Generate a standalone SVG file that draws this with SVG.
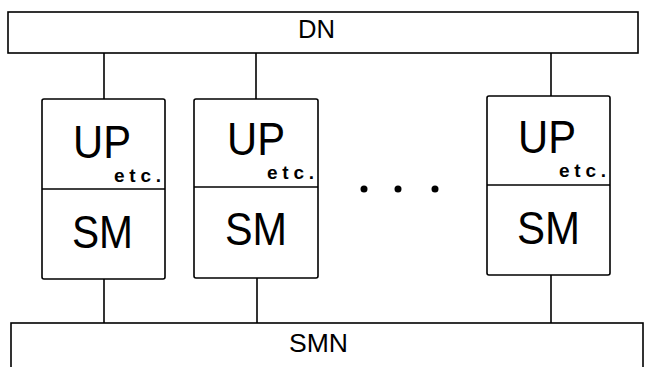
<svg xmlns="http://www.w3.org/2000/svg" width="645" height="367" viewBox="0 0 645 367">
<style>
.box{fill:#fff;stroke:#000;stroke-width:1.6}
.ln{stroke:#000;stroke-width:1.6;fill:none}
.big{font-family:"Liberation Sans",Arial,sans-serif;font-size:46px;fill:#000}
.etc{font-family:"Liberation Sans",Arial,sans-serif;font-size:19px;font-weight:bold;fill:#000}
.bus{font-family:"Liberation Sans",Arial,sans-serif;font-size:26px;fill:#000}
</style>
<rect width="645" height="367" fill="#fff"/>
<g id="connectors">
<line class="ln" x1="104" y1="53" x2="104" y2="99"/>
<line class="ln" x1="256" y1="53" x2="256" y2="99"/>
<line class="ln" x1="551" y1="53" x2="551" y2="96"/>
<line class="ln" x1="104" y1="279" x2="104" y2="323"/>
<line class="ln" x1="257" y1="278" x2="257" y2="323"/>
<line class="ln" x1="551" y1="275" x2="551" y2="323"/>
</g>
<g id="DN">
<rect class="box" x="8" y="12" width="630" height="41"/>
<text class="bus" x="298" y="38" textLength="37" lengthAdjust="spacingAndGlyphs">DN</text>
</g>
<g id="node1">
<rect class="box" x="42" y="99" width="123" height="180" rx="2"/>
<line class="ln" x1="42" y1="189" x2="165" y2="189"/>
<text class="big" x="73" y="158" textLength="58" lengthAdjust="spacingAndGlyphs">UP</text>
<text class="etc" x="114" y="182" textLength="47" lengthAdjust="spacing">etc.</text>
<text class="big" x="72" y="248" textLength="61" lengthAdjust="spacingAndGlyphs">SM</text>
</g>
<g id="node2">
<rect class="box" x="194" y="99" width="124" height="179" rx="2"/>
<line class="ln" x1="194" y1="187" x2="318" y2="187"/>
<text class="big" x="227" y="155" textLength="58" lengthAdjust="spacingAndGlyphs">UP</text>
<text class="etc" x="267" y="179" textLength="47" lengthAdjust="spacing">etc.</text>
<text class="big" x="225" y="245" textLength="62" lengthAdjust="spacingAndGlyphs">SM</text>
</g>
<g id="dots">
<circle cx="364" cy="189" r="3.5"/>
<circle cx="398" cy="189" r="3.5"/>
<circle cx="435" cy="189" r="3.5"/>
</g>
<g id="node3">
<rect class="box" x="487" y="96" width="123" height="179" rx="2"/>
<line class="ln" x1="487" y1="185" x2="610" y2="185"/>
<text class="big" x="518" y="153" textLength="58" lengthAdjust="spacingAndGlyphs">UP</text>
<text class="etc" x="559" y="177" textLength="47" lengthAdjust="spacing">etc.</text>
<text class="big" x="517" y="244" textLength="63" lengthAdjust="spacingAndGlyphs">SM</text>
</g>
<g id="SMN">
<rect class="box" x="11" y="323" width="632" height="50"/>
<text class="bus" x="289" y="352" textLength="59" lengthAdjust="spacingAndGlyphs">SMN</text>
</g>
</svg>
